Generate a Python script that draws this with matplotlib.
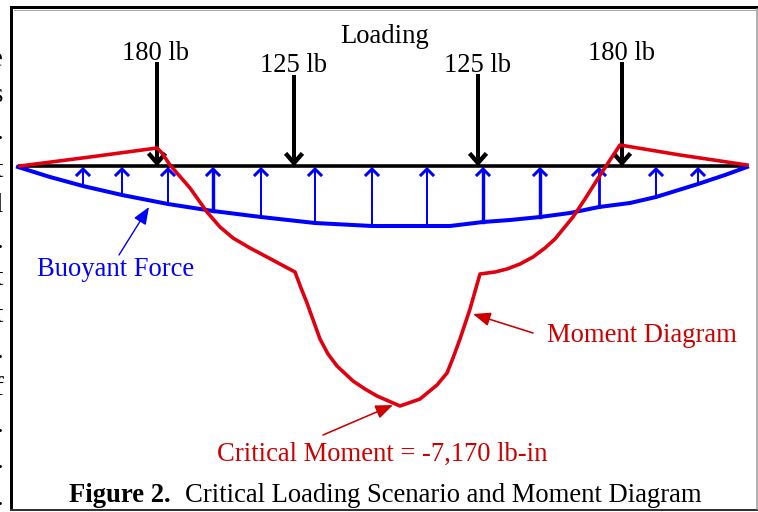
import matplotlib
matplotlib.use("Agg")
import matplotlib.pyplot as plt

plt.rcParams["font.family"] = ["Liberation Serif", "DejaVu Serif"]

# Moment diagram (pixel positions)
moment_x = [20, 90, 157, 162, 170, 190, 207, 220, 233, 250, 267, 295, 301, 307, 320, 328, 337, 353, 365, 377, 400, 420, 437, 447, 453, 460, 470, 480, 495, 507, 520, 533, 545, 555, 573, 585, 597, 610, 620, 680, 747]
moment_y = [166, 157, 148, 153, 165, 188, 212, 227, 238, 248, 257, 272, 288, 303, 339, 354, 366, 381, 389, 396, 406, 399, 385, 373, 358, 339, 309, 274, 272, 269, 264, 257, 248, 239, 217, 199, 180, 160, 145, 155, 165]

# Buoyant force curve
buoy_x = [18, 50, 83, 122, 168, 213, 261, 315, 372, 427, 450, 483, 510, 540, 570, 599, 630, 656, 698, 725, 747]
buoy_y = [167, 177, 186, 195, 204, 211, 217, 223, 226, 226, 226, 222, 220, 217, 213, 207, 203, 197, 184, 175, 167]

# Small upward arrows
up_x = [83, 122, 168, 213, 261, 315, 372, 427, 483, 540, 599, 656, 698]
up_y = [186, 195, 204, 211, 217, 223, 226, 226, 222, 217, 207, 197, 183]
up_w = [2.0, 2.0, 2.0, 3.4, 2.0, 2.0, 2.0, 2.0, 3.4, 3.4, 2.8, 2.0, 2.0]

# Point loads
load_x = [157, 294, 478, 622]
load_top = [64, 77, 76, 64]
load_labels = ["180 lb", "125 lb", "125 lb", "180 lb"]
label_y = [54, 66, 66, 54]

# Ends of body text lines cut off by the left edge of the picture
side_chars = ["e", "s", ".", "t", "l", ".", "t", "t", ".", "f", ".", ".", "."]
side_y = [66, 102, 139, 177, 212, 248, 285, 322, 358, 395, 432, 468, 505]

RED = "#e0000f"
TXT_RED = "#cc0000"
BLUE = "#0000ff"
px = 0.72

fig = plt.figure(figsize=(7.58, 5.12), dpi=100)
ax = fig.add_axes([0, 0, 1, 1])
ax.set_xlim(0, 758)
ax.set_ylim(512, 0)
ax.axis("off")

# frame
ax.plot([11, 11, 757], [509, 7, 7], color="black", lw=3 * px, solid_joinstyle="miter")
ax.plot([11, 757], [509.5, 509.5], color="#333333", lw=2 * px)
ax.plot([756.5, 756.5], [9, 509], color="#999999", lw=1.5 * px)
ax.plot([13.5, 757], [9.5, 9.5], color="#aaaaaa", lw=1 * px)

# up arrows
for x, y, w in zip(up_x, up_y, up_w):
    ax.plot([x, x], [y, 170], color=BLUE, lw=w * px)
    ax.plot([x - 6, x, x + 6], [175, 169, 175], color=BLUE, lw=3 * px, solid_joinstyle="miter")

# down arrows
for x, top in zip(load_x, load_top):
    ax.plot([x, x], [top, 163], color="black", lw=4 * px)
    ax.plot([x - 7, x, x + 7], [155, 163, 155], color="black", lw=4.4 * px, solid_joinstyle="miter")

ax.plot([18, 747], [166, 166], color="black", lw=3.6 * px, solid_capstyle="butt")
ax.plot(buoy_x, buoy_y, color=BLUE, lw=4 * px)
ax.plot(moment_x, moment_y, color=RED, lw=3.6 * px)

# callout arrows
head = "-|>,head_width=0.42,head_length=1.05"
ax.annotate("", xy=(149, 207), xytext=(119, 255),
            arrowprops=dict(arrowstyle=head, color=BLUE, lw=1.4 * px, shrinkA=0, shrinkB=0))
ax.annotate("", xy=(473, 314), xytext=(533, 333),
            arrowprops=dict(arrowstyle=head, color=TXT_RED, lw=1.6 * px, shrinkA=0, shrinkB=0))
ax.annotate("", xy=(393, 405), xytext=(323, 435),
            arrowprops=dict(arrowstyle=head, color=TXT_RED, lw=1.6 * px, shrinkA=0, shrinkB=0))

fs = 19.2
for x, y, s in zip(load_x, label_y, load_labels):
    ax.text(x - 1, y, s, fontsize=fs, ha="center", va="center", color="black")
ax.text(385, 36.5, "Loading", fontsize=fs, ha="center", va="center", color="black")
ax.text(115.5, 270, "Buoyant Force", fontsize=fs, ha="center", va="center", color=BLUE)
ax.text(642, 335.5, "Moment Diagram", fontsize=fs, ha="center", va="center", color=TXT_RED)
ax.text(382, 454, "Critical Moment = -7,170 lb-in", fontsize=fs, ha="center", va="center", color=TXT_RED)
ax.text(69, 496, "Figure 2.", fontsize=fs, fontweight="bold", ha="left", va="center", color="black")
ax.text(185, 496, "Critical Loading Scenario and Moment Diagram", fontsize=fs, ha="left", va="center", color="black")

for c, y in zip(side_chars, side_y):
    ax.text(3, y, c, fontsize=fs, ha="right", va="baseline", color="black")

fig.savefig("out.png", dpi=100)
